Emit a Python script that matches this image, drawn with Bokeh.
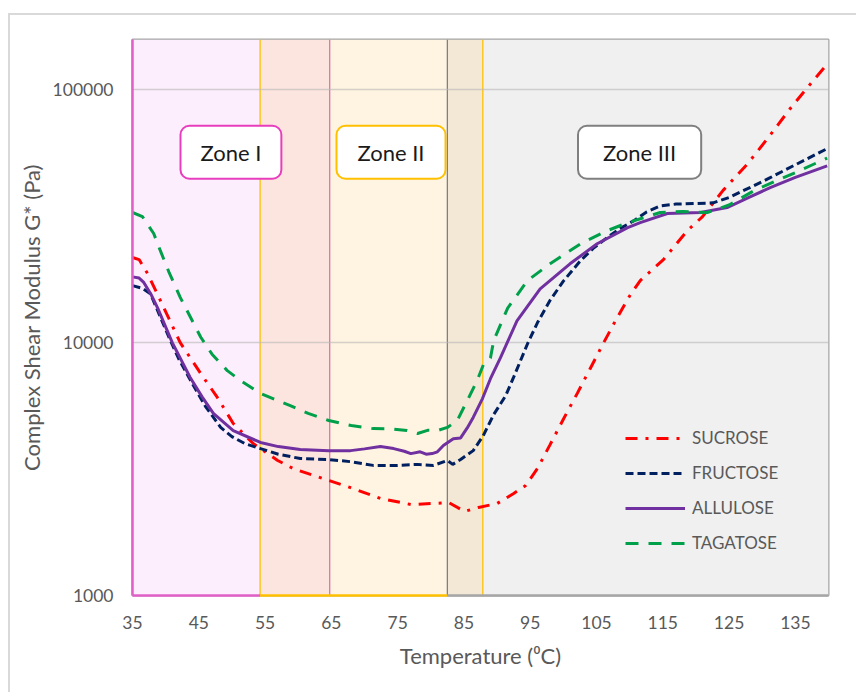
from bokeh.plotting import figure
from bokeh.models import (Range1d, FixedTicker, PrintfTickFormatter, Label, Legend, LegendItem)
from bokeh.embed import file_html
from bokeh.resources import INLINE

# ---- data ----
sucrose_t = [35, 36, 37.3, 39.2, 42.2, 45.3, 47.8, 50.2, 53.2, 56.9, 59.3, 64.6, 67.9, 72.4, 77, 80.2,
             82.7, 85.1, 87.2, 90, 92.5, 94.3, 96.1, 98, 100, 102.1, 104, 106, 108, 110, 111.6, 115.1,
             118.7, 121, 124.1, 127.8, 130.9, 134.2, 137.7, 140]
sucrose_g = [21700, 21300, 18700, 14700, 10000, 7540, 6070, 4790, 3990, 3420, 3170, 2850, 2670, 2420,
             2290, 2310, 2330, 2150, 2230, 2310, 2530, 2720, 3180, 3950, 4980, 6300, 7850, 9900, 12400,
             15300, 17600, 21300, 27700, 31500, 40000, 51000, 64600, 84100, 108700, 128000]

fructose_t = [35, 36.5, 37.7, 39, 40.5, 42, 44, 46, 48.3, 50, 52, 54.3, 57, 60.3, 64.6, 68, 71.3, 75,
              78, 80.4, 82.5, 83.3, 84.5, 86.4, 87.9, 89.5, 91.3, 92.5, 94.6, 96.1, 98, 100, 102.6,
              104.5, 106.6, 108.5, 110.6, 112.5, 114.6, 117, 120, 122.6, 125, 128.7, 131.2, 135, 139.8]
fructose_g = [16800, 16400, 15600, 13000, 10500, 8600, 6900, 5600, 4620, 4250, 3980, 3810, 3620, 3480,
              3450, 3380, 3270, 3270, 3300, 3270, 3420, 3300, 3450, 3740, 4280, 5200, 6170, 7300, 9900,
              12000, 14700, 17500, 21100, 23600, 26000, 28200, 30300, 32800, 34700, 35300, 35500,
              35700, 37500, 41700, 44900, 50500, 58500]

allulose_t = [35, 36, 36.7, 37.8, 38.8, 41, 43.7, 45.5, 47.2, 50.2, 54.3, 57, 60.3, 64.6, 67.9, 70,
              72.4, 74.4, 76, 77, 78.4, 79.3, 80.2, 81, 81.9, 83.4, 84.5, 85.5, 86.4, 87.8, 89, 90.5,
              93, 96.5, 101, 105.1, 109.7, 111.6, 115.7, 120.7, 124.7, 128, 131.2, 135, 139.8]
allulose_g = [18200, 18000, 17300, 15500, 13700, 10000, 7280, 6100, 5250, 4490, 4030, 3880, 3780, 3740,
              3740, 3800, 3880, 3810, 3720, 3640, 3700, 3620, 3640, 3700, 3920, 4170, 4200, 4600, 5060,
              6010, 7200, 8700, 12200, 16300, 20500, 24600, 28500, 29800, 32400, 32700, 34200, 37500,
              41000, 45000, 50000]

tagatose_t = [35, 36.5, 38.2, 39.2, 40.5, 42.2, 45.3, 47, 49.3, 51.3, 54.3, 58.8, 61.5, 64.6, 68, 71.3,
              74, 76.4, 78, 79.5, 81, 82.5, 84, 85.5, 87, 88, 89, 89.5, 91.6, 94.6, 98, 102.6, 106.6,
              109.7, 114.6, 118, 121.7, 125, 128.7, 132, 135, 139.8]
tagatose_g = [32700, 31500, 27000, 23100, 19000, 15100, 10500, 9000, 7750, 7080, 6290, 5630, 5250, 4920,
              4700, 4570, 4560, 4490, 4370, 4500, 4490, 4620, 4920, 5900, 7080, 8260, 8700, 10200, 13700,
              17600, 20500, 24600, 27700, 29800, 32700, 33000, 32700, 35000, 39800, 43500, 47000, 53700]

zone_edges = [35, 54.25, 64.75, 82.5, 87.85, 140]
zone_names = ["Zone I", "Zone II", "Zone III"]
x_ticks = [35, 45, 55, 65, 75, 85, 95, 105, 115, 125, 135]
y_ticks = [1000, 10000, 100000]

# ---- styles ----
FONT = "Lato"
GREY_TXT = "#595959"
zone_fills = ["#FCEEFC", "#FDE5DF", "#FEF4E1", "#F3E8D6", "#F0F0F0"]
Y_MIN, Y_MAX = 1000, 158000

frame_bg = ("linear-gradient(#d9d9d9,#d9d9d9) 8px 13px / 100% 2px no-repeat, "
            "linear-gradient(#d9d9d9,#d9d9d9) 8px 13px / 2px 100% no-repeat, white")

p = figure(width=856, height=692, y_axis_type="log", output_backend="svg", toolbar_location=None,
           x_range=Range1d(35, 140), y_range=Range1d(Y_MIN, Y_MAX),
           min_border_left=132, min_border_right=28, min_border_top=39, min_border_bottom=97,
           background_fill_color="white", border_fill_alpha=0,
           styles={"background": frame_bg})

# zone backgrounds
p.quad(left=zone_edges[:-1], right=zone_edges[1:], bottom=[Y_MIN] * 5, top=[Y_MAX] * 5,
       fill_color=zone_fills, line_color=None, level="image")

# grid
p.xgrid.visible = False
p.ygrid.ticker = FixedTicker(ticks=y_ticks)
p.ygrid.grid_line_color = "#b8b8b8"
p.ygrid.grid_line_alpha = 0.6
p.ygrid.grid_line_width = 1.5

# curves
r_suc = p.line(sucrose_t, sucrose_g, line_color="#FF0000", line_width=3, line_dash="12 8 3 8")
r_fru = p.line(fructose_t, fructose_g, line_color="#002060", line_width=3, line_dash="8 4")
r_all = p.line(allulose_t, allulose_g, line_color="#7030A0", line_width=3)
r_tag = p.line(tagatose_t, tagatose_g, line_color="#00A04A", line_width=3, line_dash="13 10")

# zone borders
p.segment(x0=[zone_edges[1], zone_edges[2], zone_edges[3], zone_edges[4]],
          x1=[zone_edges[1], zone_edges[2], zone_edges[3], zone_edges[4]],
          y0=[Y_MIN] * 4, y1=[Y_MAX] * 4,
          line_color=["#FFC000", "#E070B0", "#808080", "#FFC000"], line_width=1.3, level="underlay")
p.segment(x0=[zone_edges[0], zone_edges[0], zone_edges[1], zone_edges[3]],
          x1=[zone_edges[0], zone_edges[1], zone_edges[3], zone_edges[5]],
          y0=[Y_MIN, Y_MIN, Y_MIN, Y_MIN], y1=[Y_MAX, Y_MIN, Y_MIN, Y_MIN],
          line_color=["#E060C8", "#E060C8", "#FFC000", "#A6A6A6"], line_width=2.5, level="overlay")
p.outline_line_color = "#A6A6A6"
p.outline_line_width = 2

# axes
for ax in (p.xaxis[0], p.yaxis[0]):
    ax.axis_line_color = None
    ax.major_tick_line_color = None
    ax.minor_tick_line_color = None
    ax.major_label_text_font = FONT
    ax.major_label_text_font_size = "17.5px"
    ax.major_label_text_color = GREY_TXT
    ax.axis_label_text_font = FONT
    ax.axis_label_text_font_style = "normal"
    ax.axis_label_text_color = GREY_TXT
    ax.axis_label_text_font_size = "22px"

p.xaxis.ticker = FixedTicker(ticks=x_ticks)
p.xaxis.major_label_standoff = 14
p.xaxis.axis_label = "Temperature (\u2070C)"
p.xaxis.axis_label_standoff = 10

p.yaxis.ticker = FixedTicker(ticks=y_ticks)
p.yaxis.formatter = PrintfTickFormatter(format="%d")
p.yaxis.major_tick_out = 0
p.yaxis.major_tick_in = 0
p.yaxis.major_label_standoff = 19
p.yaxis.axis_label = "Complex Shear Modulus G* (Pa)"
p.yaxis.axis_label_standoff = 5

# zone labels
zone_label_x = [49.85, 74.0, 111.5]
zone_border = ["#E83EBE", "#FFC000", "#7F7F7F"]
zone_pad = [dict(x=20, y=13), dict(x=21, y=13), dict(x=25, y=13)]
for name, zx, bc, pad in zip(zone_names, zone_label_x, zone_border, zone_pad):
    p.add_layout(Label(x=zx, y=56600, text=name, text_align="center", text_baseline="middle",
                       text_font=FONT, text_font_size="22px", text_color="#1a1a1a",
                       background_fill_color="white", border_line_color=bc, border_line_width=2,
                       padding=pad, border_radius=9))

# legend
legend = Legend(items=[LegendItem(label="SUCROSE", renderers=[r_suc]),
                       LegendItem(label="FRUCTOSE", renderers=[r_fru]),
                       LegendItem(label="ALLULOSE", renderers=[r_all]),
                       LegendItem(label="TAGATOSE", renderers=[r_tag])],
                location=(493, 42), orientation="vertical",
                background_fill_alpha=0, border_line_color=None,
                margin=0, padding=0, spacing=14,
                glyph_width=60, glyph_height=20, label_height=20, label_standoff=7,
                label_text_font=FONT, label_text_font_size="17px", label_text_color=GREY_TXT)
p.add_layout(legend)

open("out.html", "w").write(file_html(p, INLINE))
